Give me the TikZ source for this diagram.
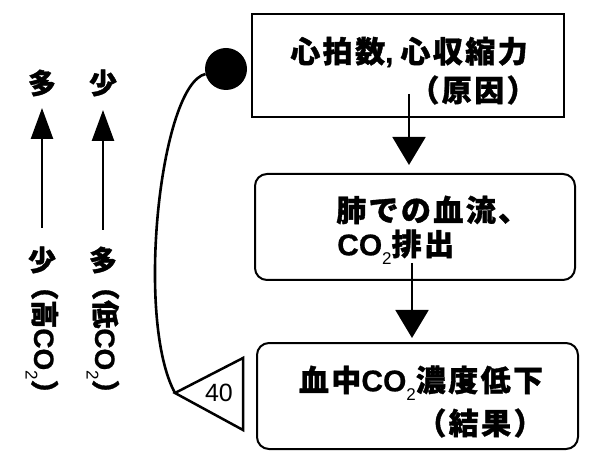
\documentclass[tikz,border=0pt]{standalone}
\usepackage{fontspec}
\usetikzlibrary{arrows.meta}
\newfontfamily\jpmain{Noto Sans CJK JP}[LetterSpace=8,BoldFeatures={FakeBold=1.2}]
\newfontfamily\jpside{Noto Sans CJK JP}[BoldFeatures={FakeBold=1.2}]
\newfontfamily\latin{Liberation Sans}[BoldFeatures={FakeBold=0.6}]
\newfontfamily\numfont{Liberation Sans}
\newcommand\mysub[1]{\raisebox{-0.3em}{\latin\mdseries\fontsize{17}{17}\selectfont #1}}
\newcommand\cotwo{{\latin CO}\mysub{2}}
\tikzset{
  boxtext/.style={inner sep=0pt, font=\jpmain\bfseries\fontsize{30}{32}\selectfont},
  sidetext/.style={inner sep=0pt, font=\jpside\bfseries\fontsize{28}{30}\selectfont},
  squarebox/.style={draw, line width=2pt, inner sep=0pt},
  roundbox/.style={draw, line width=2pt, rounded corners=12pt, inner sep=0pt},
  mainarrow/.style={line width=2pt, -{Triangle[length=28pt,width=33pt]}},
  sidearrow/.style={line width=2.5pt, -{Triangle[length=31pt,width=22pt]}},
}
\begin{document}
\begin{tikzpicture}[x=1pt,y=-1pt]
\useasboundingbox (0,0) rectangle (589,470);
% boxes
\node[squarebox, minimum width=312pt, minimum height=103pt] (b1) at (408,65.5) {};
\node[roundbox, minimum width=320pt, minimum height=106pt] (b2) at (415,227) {};
\node[roundbox, minimum width=321pt, minimum height=106pt] (b3) at (417.5,396) {};
% texts
\node[boxtext] (t1a) at (409,52) {心拍数{\latin,}\hspace{7pt}心収縮力};
\node[boxtext] (t1b) at (473,90) {（原因）};
\node[boxtext, anchor=west] (t2a) at (336,210) {肺での血流、};
\node[boxtext, anchor=west] (t2b) at (337,247) {\cotwo 排出};
\node[boxtext] (t3a) at (421,383) {血中\cotwo 濃度低下};
\node[boxtext] (t3b) at (480,423) {（結果）};
% arrows between boxes
\coordinate (a1s) at (409,94);
\coordinate (a1e) at (409,165);
\draw[mainarrow] (a1s) -- (a1e);
\coordinate (a2s) at (412,263);
\coordinate (a2e) at (412,338);
\draw[mainarrow] (a2s) -- (a2e);
% feedback
\node[circle, fill=black, minimum size=42pt, inner sep=0pt] (dot) at (226,69) {};
\coordinate (tip) at (175,393);
\draw[line width=2.5pt, line join=miter] (tip) -- (243,358) -- (243,430) -- cycle;
\node[inner sep=0pt, font=\numfont\fontsize{25}{25}\selectfont] (n40) at (219,393) {40};
\draw[line width=2.6pt] (dot) .. controls (160,85) and (135,320) .. (tip);
% left side
\node[sidetext] (l1top) at (42,83) {多};
\node[sidetext] (l2top) at (103,83) {少};
\node[sidetext] (l1bot) at (42,260) {少};
\node[sidetext] (l2bot) at (103,260) {多};
\node[sidetext, rotate=-90] (l1rot) at (42,340) {（高\cotwo）};
\node[sidetext, rotate=-90] (l2rot) at (103,340) {（低\cotwo）};
\coordinate (la1s) at (42,228);
\coordinate (la1e) at (42,108);
\coordinate (la2s) at (103,230);
\coordinate (la2e) at (103,110);
\draw[sidearrow] (la1s) -- (la1e);
\draw[sidearrow] (la2s) -- (la2e);
\end{tikzpicture}
\end{document}
